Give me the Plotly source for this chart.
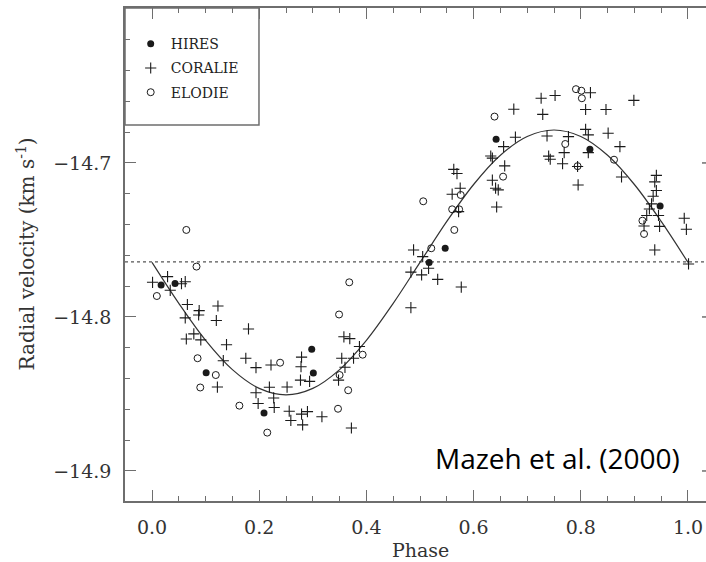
import plotly.graph_objects as go

# ---------------- data ----------------
HIRES_PHASE = [0.017, 0.043, 0.101, 0.209, 0.298, 0.301, 0.517, 0.547, 0.642, 0.817, 0.948]
HIRES_RV = [-14.7792, -14.7782, -14.8362, -14.8623, -14.8210, -14.8364, -14.7646, -14.7554,
            -14.6846, -14.6911, -14.7279]

ELODIE_PHASE = [0.009, 0.064, 0.083, 0.085, 0.119, 0.090, 0.163, 0.215, 0.239, 0.368, 0.349,
                0.393, 0.350, 0.366, 0.347, 0.506, 0.521, 0.564, 0.560, 0.573, 0.576, 0.655,
                0.639, 0.791, 0.801, 0.802, 0.771, 0.794, 0.862, 0.915, 0.918]
ELODIE_RV = [-14.7864, -14.7435, -14.7673, -14.8268, -14.8377, -14.8458, -14.8576, -14.8751,
             -14.8297, -14.7775, -14.7984, -14.8245, -14.8377, -14.8476, -14.8596, -14.7249,
             -14.7554, -14.7435, -14.7301, -14.7301, -14.7208, -14.7089, -14.6699, -14.6521,
             -14.6531, -14.6580, -14.6877, -14.7021, -14.6979, -14.7375, -14.7461]

CORALIE_PHASE = [0.001, 0.029, 0.034, 0.055, 0.062, 0.066, 0.088, 0.087, 0.123, 0.120,
                 0.062, 0.078, 0.064, 0.091, 0.180, 0.139, 0.133, 0.175, 0.194, 0.222,
                 0.122, 0.219, 0.194, 0.198, 0.227, 0.228, 0.252, 0.256, 0.259, 0.279,
                 0.278, 0.277, 0.294, 0.279, 0.290, 0.281, 0.317, 0.358, 0.369, 0.387,
                 0.354, 0.376, 0.360, 0.348, 0.372, 0.483, 0.483, 0.488, 0.505, 0.516,
                 0.503, 0.533, 0.577, 0.563, 0.569, 0.575, 0.560, 0.572, 0.632, 0.635,
                 0.658, 0.635, 0.641, 0.646, 0.643, 0.675, 0.678, 0.656, 0.726, 0.752,
                 0.729, 0.818, 0.809, 0.847, 0.899, 0.737, 0.777, 0.809, 0.814, 0.851,
                 0.873, 0.769, 0.740, 0.743, 0.766, 0.794, 0.814, 0.876, 0.795, 0.941,
                 0.938, 0.941, 0.935, 0.932, 0.928, 0.923, 0.945, 0.918, 0.947, 0.938,
                 0.993, 0.997, 1.001]
CORALIE_RV = [-14.7775, -14.7738, -14.7827, -14.7784, -14.7771, -14.7919, -14.7959, -14.7987,
              -14.7929, -14.8023, -14.8006, -14.8110, -14.8143, -14.8149, -14.8078, -14.8180,
              -14.8284, -14.8268, -14.8329, -14.8312, -14.8455, -14.8456, -14.8492, -14.8562,
              -14.8526, -14.8588, -14.8455, -14.8612, -14.8672, -14.8261, -14.8323, -14.8410,
              -14.8418, -14.8631, -14.8615, -14.8701, -14.8648, -14.8129, -14.8141, -14.8192,
              -14.8268, -14.8268, -14.8327, -14.8410, -14.8721, -14.7709, -14.7940, -14.7565,
              -14.7608, -14.7684, -14.7727, -14.7756, -14.7806, -14.7042, -14.7069, -14.7164,
              -14.7203, -14.7316, -14.6955, -14.6969, -14.7019, -14.7112, -14.7164, -14.7175,
              -14.7286, -14.6651, -14.6833, -14.6894, -14.6580, -14.6562, -14.6685, -14.6544,
              -14.6653, -14.6653, -14.6594, -14.6825, -14.6829, -14.6782, -14.6818, -14.6807,
              -14.6894, -14.6933, -14.6956, -14.6976, -14.7005, -14.7023, -14.6933, -14.7091,
              -14.7143, -14.7081, -14.7123, -14.7179, -14.7216, -14.7266, -14.7299, -14.7341,
              -14.7341, -14.7409, -14.7412, -14.7565, -14.7359, -14.7431, -14.7656]

FIT_PHASE = [0.00, 0.05, 0.10, 0.15, 0.20, 0.25, 0.30, 0.35, 0.40, 0.45, 0.50,
             0.55, 0.60, 0.65, 0.70, 0.75, 0.80, 0.85, 0.90, 0.95, 1.00]
FIT_RV = [-14.7646, -14.7912, -14.8152, -14.8342, -14.8464, -14.8506, -14.8464, -14.8342,
          -14.8152, -14.7912, -14.7646, -14.7380, -14.7140, -14.6950, -14.6828, -14.6786,
          -14.6828, -14.6950, -14.7140, -14.7380, -14.7646]

SYSTEMIC_RV = -14.7643
X_TICKS = [0.0, 0.2, 0.4, 0.6, 0.8, 1.0]
Y_TICKS = [-14.9, -14.8, -14.7]
X_TITLE = "Phase"
Y_TITLE = "Radial velocity (km s<sup>-1</sup>)"
CREDIT = "Mazeh et al. (2000)"

# ---------------- figure ----------------
SERIF = "DejaVu Serif"
INK = "#1a1a1a"
AXIS = "#6e6e6e"

fig = go.Figure()

fig.add_trace(go.Scatter(
    x=FIT_PHASE, y=FIT_RV, mode="lines", line=dict(color="#333333", width=1.2, shape="spline"),
    showlegend=False, hoverinfo="skip"))

fig.add_trace(go.Scatter(
    x=HIRES_PHASE, y=HIRES_RV, mode="markers", name="HIRES", legendgroup="a",
    marker=dict(symbol="circle", size=7, color=INK, line=dict(width=0))))
fig.add_trace(go.Scatter(
    x=CORALIE_PHASE, y=CORALIE_RV, mode="markers", name="CORALIE", legendgroup="b",
    marker=dict(symbol="cross-thin-open", size=8, color=INK, line=dict(width=1.1, color=INK))))
fig.add_trace(go.Scatter(
    x=ELODIE_PHASE, y=ELODIE_RV, mode="markers", name="ELODIE", legendgroup="c",
    marker=dict(symbol="circle-open", size=7, color=INK, line=dict(width=1, color=INK))))

# systemic velocity (dotted)
fig.add_shape(type="line", xref="paper", x0=0, x1=1, yref="y", y0=SYSTEMIC_RV, y1=SYSTEMIC_RV,
              line=dict(color="#555555", width=1.2, dash="dot"), layer="below")

# legend frame
fig.add_shape(type="rect", xref="paper", yref="paper", x0=0, x1=0.2306, y0=0.7627, y1=1,
              line=dict(color=AXIS, width=1.5), fillcolor="rgba(0,0,0,0)")

# right-axis tick stubs (axis itself lies just outside the picture)
for yv in Y_TICKS:
    fig.add_shape(type="line", xref="paper", x0=1 - 4 / 581, x1=1, yref="y", y0=yv, y1=yv,
                  line=dict(color=AXIS, width=1.5))

fig.add_annotation(x=0.5, y=-0.0985, xref="x", yref="paper", text=X_TITLE, showarrow=False,
                   yanchor="middle", xanchor="center",
                   font=dict(family=SERIF, size=19, color="#333333"))
fig.add_annotation(x=-0.1721, y=0.5, xref="paper", yref="paper", text=Y_TITLE, showarrow=False,
                   textangle=-90, xanchor="center", yanchor="middle",
                   font=dict(family=SERIF, size=20, color="#333333"))
fig.add_annotation(x=0.757, y=-14.8916, xref="x", yref="y", text=CREDIT, showarrow=False,
                   xanchor="center", yanchor="middle",
                   font=dict(family="Open Sans", size=28, color="#000000"))

fig.update_layout(
    width=706, height=562,
    margin=dict(l=125, r=0, t=8, b=61),
    paper_bgcolor="white", plot_bgcolor="white",
    showlegend=True,
    legend=dict(x=0.0098, y=0.959, xanchor="left", yanchor="top", bgcolor="rgba(0,0,0,0)",
                borderwidth=0, tracegroupgap=3, itemwidth=30,
                font=dict(family=SERIF, size=14, color="#222222")),
    xaxis=dict(range=[-0.0504, 1.0336], tickvals=X_TICKS, tickformat=".1f",
               ticks="inside", ticklen=11, tickwidth=1.3, tickcolor=AXIS,
               showline=True, linecolor=AXIS, linewidth=1.5, mirror="ticks",
               showgrid=False, zeroline=False, ticklabelstandoff=8,
               minor=dict(dtick=0.05, tick0=0, ticks="inside", ticklen=5, tickwidth=1.2,
                          tickcolor=AXIS, showgrid=False),
               tickfont=dict(family=SERIF, size=19, color="#333333")),
    yaxis=dict(range=[-14.9195, -14.5994], tickvals=Y_TICKS, tickformat=".1f",
               ticks="inside", ticklen=11, tickwidth=1.3, tickcolor=AXIS,
               showline=True, linecolor=AXIS, linewidth=1.5, mirror=False,
               showgrid=False, zeroline=False, ticklabelstandoff=8,
               minor=dict(dtick=0.02, tick0=-14.9, ticks="inside", ticklen=5, tickwidth=1.2,
                          tickcolor=AXIS, showgrid=False),
               tickfont=dict(family=SERIF, size=19, color="#333333")),
)

fig.write_html("out.html")
